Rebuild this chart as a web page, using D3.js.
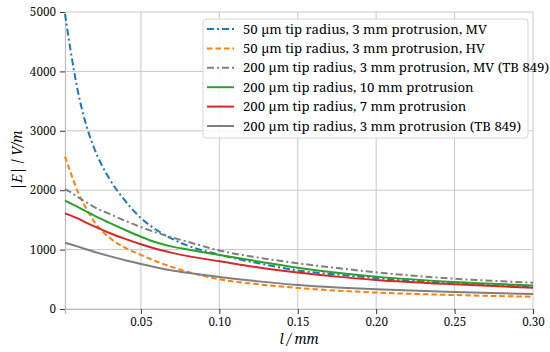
<!DOCTYPE html>
<html>
<head>
<meta charset="utf-8">
<script src="https://cdn.jsdelivr.net/npm/d3@7"></script>
<style>
  body { margin: 0; background: #fff; }
  svg { display: block; }
</style>
</head>
<body>
<svg id="chart" width="550" height="352"></svg>
<script>
const lValues = [0.0016, 0.005, 0.01, 0.015, 0.02, 0.03, 0.04, 0.05, 0.06, 0.07, 0.08, 0.1, 0.125, 0.15, 0.175, 0.2, 0.25, 0.3];

const tip50MV   = [4970, 4380, 3640, 3110, 2720, 2190, 1820, 1530, 1330, 1180, 1065, 915, 770, 650, 580, 520, 432, 372];
const tip50HV   = [2570, 2310, 1960, 1700, 1480, 1200, 1030, 910, 800, 705, 625, 500, 415, 355, 310, 277, 235, 207];
const tip200MV  = [2020, 1970, 1880, 1800, 1720, 1600, 1485, 1380, 1285, 1205, 1130, 985, 865, 770, 690, 617, 510, 443];
const tip200p10 = [1823, 1780, 1715, 1645, 1575, 1450, 1330, 1217, 1120, 1050, 1000, 910, 800, 695, 612, 545, 455, 397];
const tip200p7  = [1611, 1575, 1520, 1455, 1395, 1280, 1180, 1089, 1010, 945, 890, 805, 700, 615, 545, 490, 415, 358];
const tip200p3  = [1116, 1090, 1050, 1005, 965, 890, 820, 758, 700, 650, 610, 540, 465, 404, 362, 331, 286, 252];

const seriesNames = [
  "50 \u00b5m tip radius, 3 mm protrusion, MV",
  "50 \u00b5m tip radius, 3 mm protrusion, HV",
  "200 \u00b5m tip radius, 3 mm protrusion, MV (TB 849)",
  "200 \u00b5m tip radius, 10 mm protrusion",
  "200 \u00b5m tip radius, 7 mm protrusion",
  "200 \u00b5m tip radius, 3 mm protrusion (TB 849)"
];
const xTicks = [0.05, 0.10, 0.15, 0.20, 0.25, 0.30];
const yTicks = [0, 1000, 2000, 3000, 4000, 5000];

const series = [
  { name: seriesNames[0], values: tip50MV,   color: "#1f77b4", dash: "7,3,2,3" },
  { name: seriesNames[1], values: tip50HV,   color: "#ff7f0e", dash: "5.5,3" },
  { name: seriesNames[2], values: tip200MV,  color: "#7f7f7f", dash: "7,3,2,3" },
  { name: seriesNames[3], values: tip200p10, color: "#2ca02c", dash: null },
  { name: seriesNames[4], values: tip200p7,  color: "#d62728", dash: null },
  { name: seriesNames[5], values: tip200p3,  color: "#7f7f7f", dash: null }
];

const serif = "'Noto Serif', 'Liberation Serif', serif";
const margin = { left: 65, right: 17, top: 12, bottom: 43 };
const width = 550 - margin.left - margin.right;
const height = 352 - margin.top - margin.bottom;

const svg = d3.select("#chart");
const g = svg.append("g").attr("transform", `translate(${margin.left},${margin.top})`);

const x = d3.scaleLinear().domain([0.0016, 0.30]).range([0, width]);
const y = d3.scaleLinear().domain([0, 5000]).range([height, 0]);

// grid
g.append("g").selectAll("line").data(xTicks).join("line")
  .attr("x1", d => x(d)).attr("x2", d => x(d))
  .attr("y1", 0).attr("y2", height)
  .attr("stroke", "#c8c8c8").attr("stroke-width", 1);
g.append("g").selectAll("line").data(yTicks).join("line")
  .attr("x1", 0).attr("x2", width)
  .attr("y1", d => y(d)).attr("y2", d => y(d))
  .attr("stroke", "#c8c8c8").attr("stroke-width", 1);

// axes
const xAxis = g.append("g")
  .attr("transform", `translate(0,${height})`)
  .call(d3.axisBottom(x).tickValues(xTicks).tickFormat(d3.format(".2f")).tickSize(5).tickPadding(4));
const yAxis = g.append("g")
  .call(d3.axisLeft(y).tickValues(yTicks).tickFormat(d3.format("d")).tickSize(5).tickPadding(4));

[xAxis, yAxis].forEach(a => {
  a.attr("font-family", serif).attr("font-size", 11.7);
  a.select(".domain").attr("stroke", "#bdbdbd").attr("stroke-width", 1.2);
  a.selectAll(".tick line").attr("stroke", "#333");
  a.selectAll(".tick text").attr("fill", "#111");
});

// lines
const line = d3.line()
  .x((d, i) => x(lValues[i]))
  .y(d => y(d))
  .curve(d3.curveMonotoneX);

g.append("g").selectAll("path").data(series).join("path")
  .attr("d", d => line(d.values))
  .attr("fill", "none")
  .attr("stroke", d => d.color)
  .attr("stroke-width", 2)
  .attr("stroke-dasharray", d => d.dash);

// axis labels
svg.append("text")
  .attr("x", margin.left + width / 2)
  .attr("y", 344)
  .attr("text-anchor", "middle")
  .attr("font-family", serif)
  .attr("font-size", 13.5)
  .attr("font-style", "italic")
  .text("l / mm");

const yl = svg.append("text")
  .attr("transform", `translate(22,${margin.top + height / 2}) rotate(-90)`)
  .attr("text-anchor", "middle")
  .attr("font-family", serif)
  .attr("font-size", 13.5);
yl.append("tspan").text("|");
yl.append("tspan").attr("font-style", "italic").text("E");
yl.append("tspan").text("| / ");
yl.append("tspan").attr("font-style", "italic").text("V/m");

// legend
const legend = svg.append("g").attr("transform", "translate(203,19)");
legend.append("rect")
  .attr("width", 325).attr("height", 119)
  .attr("rx", 3)
  .attr("fill", "#fff").attr("fill-opacity", 0.85)
  .attr("stroke", "#d6d6d6");

const item = legend.selectAll("g.item").data(series).join("g")
  .attr("class", "item")
  .attr("transform", (d, i) => `translate(0,${10 + i * 19.4})`);
item.append("line")
  .attr("x1", 4).attr("x2", 31)
  .attr("stroke", d => d.color)
  .attr("stroke-width", 2)
  .attr("stroke-dasharray", d => d.dash);
item.append("text")
  .attr("x", 40).attr("dy", "0.35em")
  .attr("font-family", serif)
  .attr("font-size", 13.2)
  .text(d => d.name);
</script>
</body>
</html>
